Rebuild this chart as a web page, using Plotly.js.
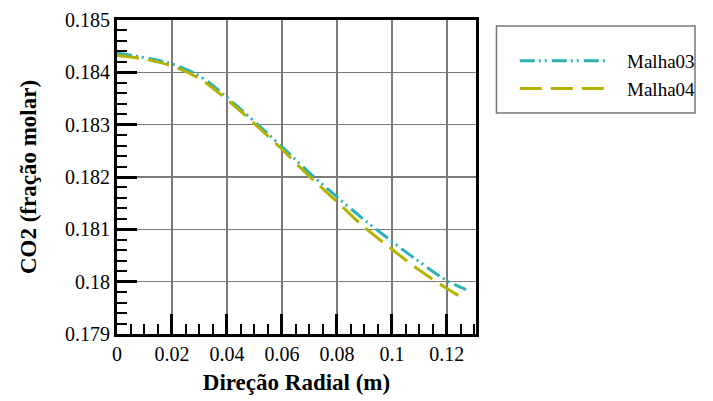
<!DOCTYPE html>
<html>
<head>
<meta charset="utf-8">
<script src="https://cdn.plot.ly/plotly-3.0.1.min.js"></script>
</head>
<body style="margin:0;padding:0;background:#fff;">
<div id="chart" style="width:713px;height:401px;"></div>
<script>
const radial = [0, 0.01, 0.02, 0.03, 0.04, 0.05, 0.06, 0.07, 0.08, 0.09, 0.10, 0.11, 0.12, 0.127];
const malha03 = [0.18437, 0.18428, 0.18416, 0.18393, 0.18352, 0.18306, 0.18258, 0.18208, 0.18162, 0.18118, 0.18077, 0.18038, 0.18002, 0.17985];
const malha04 = [0.18432, 0.18425, 0.18412, 0.18388, 0.18348, 0.18302, 0.18253, 0.18201, 0.18153, 0.18104, 0.18062, 0.18022, 0.17987, 0.17965];
const seriesNames = ['Malha03', 'Malha04'];
const xTickVals = [0, 0.02, 0.04, 0.06, 0.08, 0.1, 0.12];
const xTickText = ['0', '0.02', '0.04', '0.06', '0.08', '0.1', '0.12'];
const yTickVals = [0.179, 0.18, 0.181, 0.182, 0.183, 0.184, 0.185];
const yTickText = ['0.179', '0.18', '0.181', '0.182', '0.183', '0.184', '0.185'];

const FAM = 'Liberation Serif';
const pad = '\u00a0\u00a0\u00a0';

const traces = [
  {x: radial, y: malha03, name: pad + seriesNames[0], legendgroup: 'a', type: 'scatter', mode: 'lines',
   line: {shape: 'spline', color: '#2ab3b6', width: 3, dash: '15px,4px,2px,4px,2px,5px'}},
  {x: radial, y: malha04, name: pad + seriesNames[1], legendgroup: 'b', type: 'scatter', mode: 'lines',
   line: {shape: 'spline', color: '#b3b300', width: 3, dash: '22px,9px'}}
];

const layout = {
  width: 713, height: 401,
  margin: {l: 117, r: 227, t: 20, b: 66.5},
  paper_bgcolor: '#fff', plot_bgcolor: '#fff',
  font: {family: FAM, size: 20},
  showlegend: true,
  legend: {x: 1.108, xanchor: 'left', y: 0.93, yanchor: 'top', bgcolor: 'rgba(0,0,0,0)', borderwidth: 0,
    font: {family: FAM, size: 19}, itemwidth: 88, traceorder: 'grouped', tracegroupgap: 0},
  xaxis: {
    range: [0, 0.1306], tickvals: xTickVals, ticktext: xTickText,
    ticks: 'inside', ticklen: 20, tickwidth: 3, tickcolor: '#000',
    minor: {dtick: 0.005, ticks: 'inside', ticklen: 10, tickwidth: 2, tickcolor: '#000', showgrid: false},
    showgrid: true, gridcolor: '#7a7a7a', gridwidth: 1.5,
    showline: true, linecolor: '#000', linewidth: 3, mirror: true,
    zeroline: false, tickfont: {family: FAM, size: 20},
    title: {text: 'Direção Radial (m)', font: {family: FAM, size: 23, weight: 'bold'}, standoff: 10}
  },
  yaxis: {
    range: [0.179, 0.185], tickvals: yTickVals, ticktext: yTickText,
    ticks: 'inside', ticklen: 20, tickwidth: 3, tickcolor: '#000',
    minor: {dtick: 0.0002, ticks: 'inside', ticklen: 10, tickwidth: 2, tickcolor: '#000', showgrid: false},
    showgrid: true, gridcolor: '#7a7a7a', gridwidth: 1.5,
    showline: true, linecolor: '#000', linewidth: 3, mirror: true,
    zeroline: false, tickfont: {family: FAM, size: 20},
    title: {text: 'CO2 (fração molar)', font: {family: FAM, size: 23, weight: 'bold'}, standoff: 22}
  },
  shapes: [
    {type: 'rect', xref: 'paper', yref: 'paper', x0: 1.057, x1: 1.61, y0: 0.704, y1: 0.981,
     line: {color: '#777', width: 1.5}, fillcolor: 'rgba(0,0,0,0)'}
  ]
};

Plotly.newPlot('chart', traces, layout, {staticPlot: true}).then(function (gd) {
  gd.querySelectorAll('text').forEach(function (t) {
    t.style.setProperty('font-family', '"Liberation Serif", "Times New Roman", serif', 'important');
    t.style.setProperty('fill', '#000');
  });
});
</script>
</body>
</html>
